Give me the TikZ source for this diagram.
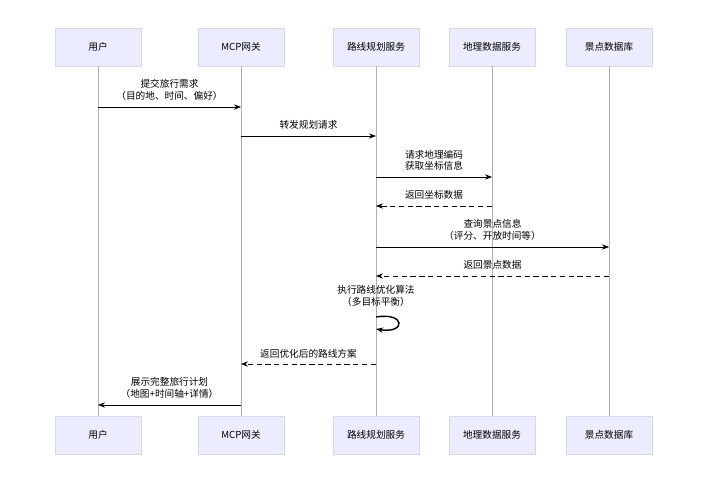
\documentclass[tikz,border=0pt]{standalone}
\usepackage{fontspec}
\setmainfont{Noto Sans CJK SC}
\usetikzlibrary{arrows.meta}
\definecolor{boxfill}{RGB}{236,236,255}
\definecolor{boxline}{RGB}{215,215,235}
\definecolor{lifeline}{RGB}{175,175,175}
\tikzset{
	actor/.style={draw=boxline, fill=boxfill, minimum width=1.72cm, minimum height=0.76cm, font=\fontsize{5.5}{6.5}\selectfont},
	msg/.style={-{Stealth[length=4pt]}, thin},
	reply/.style={-{Stealth[length=4pt]}, thin, densely dashed},
	lbl/.style={font=\fontsize{5.5}{6.8}\selectfont, align=center, above}
}
\begin{document}
\begin{tikzpicture}[x=0.02cm, y=-0.02cm]
	\useasboundingbox (0,0) rectangle (727,500);

	% heads and feet of the lifelines
	\foreach \name/\xx/\txt in {user/98/用户, gw/241/MCP网关, route/376/路线规划服务, geo/492/地理数据服务, poi/609/景点数据库} {
		\node[actor] (\name-top) at (\xx,47) {\txt};
		\node[actor] (\name-bot) at (\xx,435) {\txt};
		\draw[lifeline] (\name-top) -- (\name-bot);
		\coordinate (\name) at (\xx,0);
	}

	% messages
	\draw[msg] (user |- 0,107) -- node[lbl] {提交旅行需求\\（目的地、时间、偏好）} (gw |- 0,107);
	\draw[msg] (gw |- 0,136) -- node[lbl] {转发规划请求} (route |- 0,136);
	\draw[msg] (route |- 0,177) -- node[lbl] {请求地理编码\\获取坐标信息} (geo |- 0,177);
	\draw[reply] (geo |- 0,206) -- node[lbl] {返回坐标数据} (route |- 0,206);
	\draw[msg] (route |- 0,247) -- node[lbl] {查询景点信息\\（评分、开放时间等）} (poi |- 0,247);
	\draw[reply] (poi |- 0,276) -- node[lbl] {返回景点数据} (route |- 0,276);
	\node[lbl] (algo) at (376,313) {执行路线优化算法\\（多目标平衡）};
	\draw[msg, thick] (route |- 0,317) .. controls (406,312) and (406,334) .. (route |- 0,329);
	\draw[reply] (route |- 0,364) -- node[lbl] {返回优化后的路线方案} (gw |- 0,364);
	\draw[msg] (gw |- 0,405) -- node[lbl] {展示完整旅行计划\\（地图+时间轴+详情）} (user |- 0,405);
\end{tikzpicture}
\end{document}
